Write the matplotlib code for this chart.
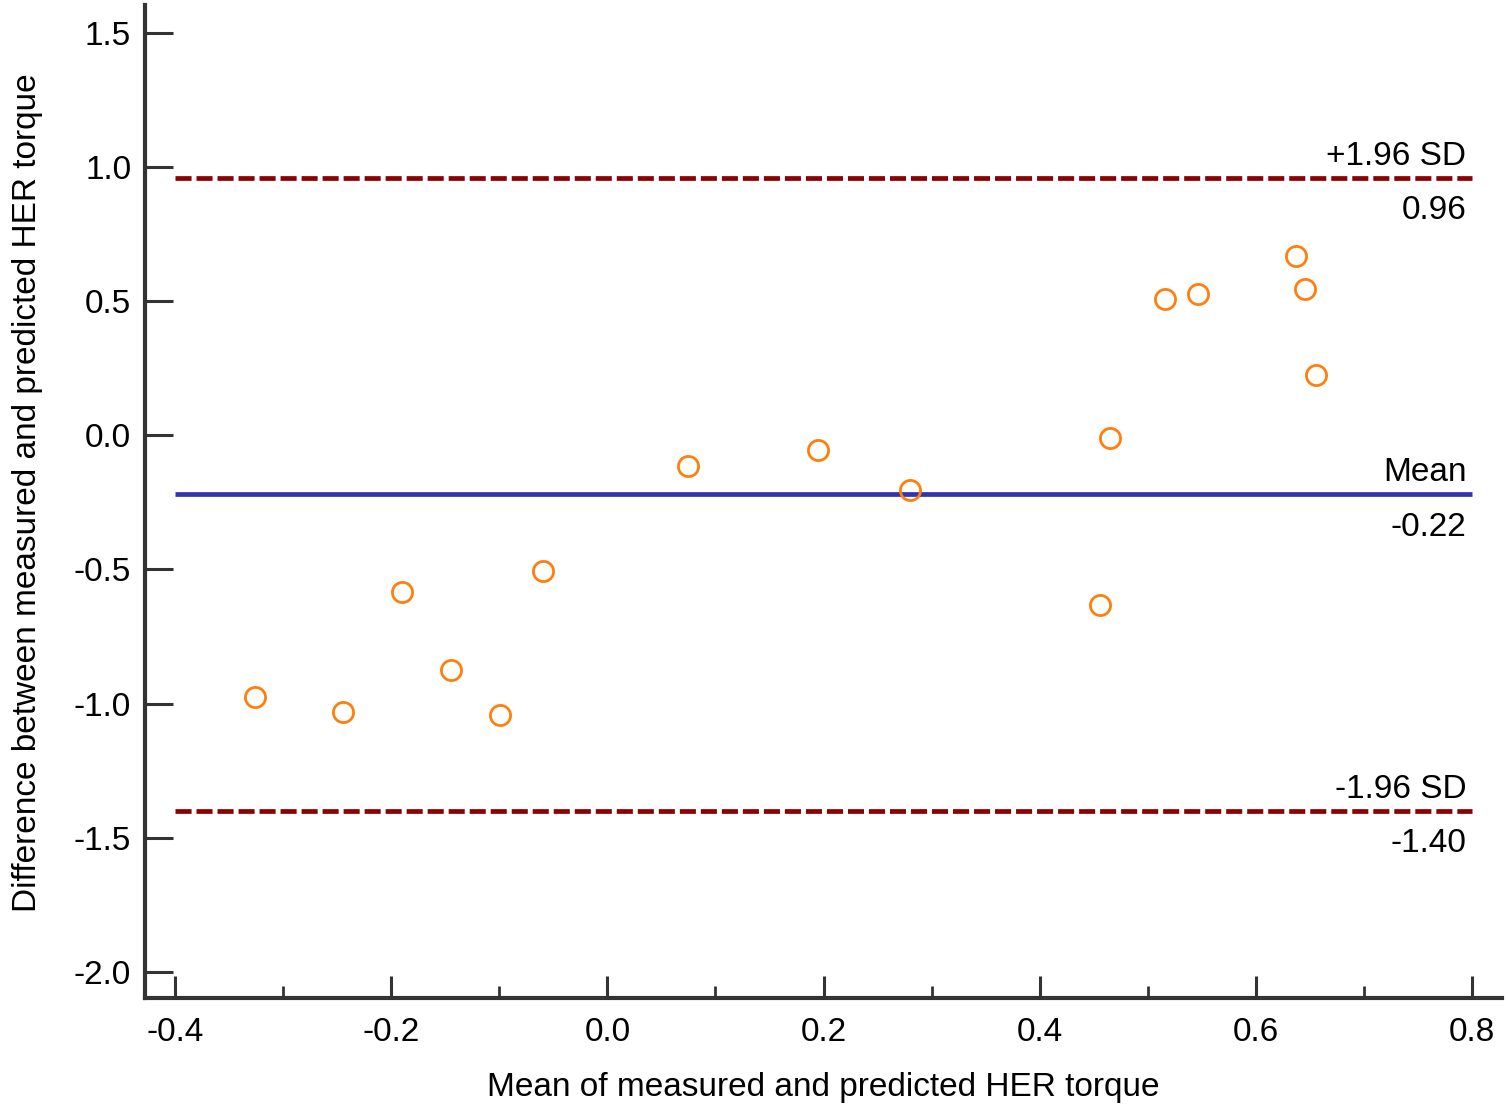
import matplotlib
matplotlib.use("Agg")
import matplotlib.pyplot as plt
from matplotlib.ticker import MultipleLocator

plt.rcParams['font.family'] = ['Liberation Sans', 'DejaVu Sans']

# mean and difference of measured vs predicted HER torque
mean_vals = [-0.326, -0.245, -0.190, -0.145, -0.099, -0.060, 0.075, 0.195,
             0.280, 0.456, 0.465, 0.516, 0.547, 0.637, 0.646, 0.656]
diff_vals = [-0.976, -1.032, -0.585, -0.876, -1.044, -0.507, -0.116, -0.056,
             -0.205, -0.634, -0.011, 0.507, 0.526, 0.667, 0.544, 0.224]

bias = -0.22
upper = 0.96
lower = -1.40

fig = plt.figure(figsize=(15.08, 11.06), dpi=100)
ax = fig.add_axes([0.0962, 0.0976, 0.8998, 0.898])

ax.hlines([upper, lower], -0.4, 0.8, colors='#8b0000', linestyles=(0, (3.4, 1.05)), lw=3.4)
ax.hlines(bias, -0.4, 0.8, colors='#3333aa', lw=3.4)
ax.plot(mean_vals, diff_vals, 'o', mfc='none', mec='#ff7f0e', ms=14.5, mew=2)

lab = dict(ha='right', fontsize=24)
ax.text(0.795, upper + 0.022, "+1.96 SD", va='bottom', **lab)
ax.text(0.795, upper - 0.065, "%.2f" % upper, va='top', **lab)
ax.text(0.795, bias + 0.022, "Mean", va='bottom', **lab)
ax.text(0.795, bias - 0.065, "%.2f" % bias, va='top', **lab)
ax.text(0.795, lower + 0.022, "-1.96 SD", va='bottom', **lab)
ax.text(0.795, lower - 0.065, "%.2f" % lower, va='top', **lab)

ax.set_xlim(-0.428, 0.828)
ax.set_ylim(-2.097, 1.604)
ax.set_xticks([-0.4, -0.2, 0.0, 0.2, 0.4, 0.6, 0.8])
ax.set_yticks([-2.0, -1.5, -1.0, -0.5, 0.0, 0.5, 1.0, 1.5])
ax.xaxis.set_minor_locator(MultipleLocator(0.1))
ax.xaxis.set_major_formatter(matplotlib.ticker.FormatStrFormatter('%.1f'))
ax.yaxis.set_major_formatter(matplotlib.ticker.FormatStrFormatter('%.1f'))

for s in ['top', 'right']:
    ax.spines[s].set_visible(False)
for s in ['left', 'bottom']:
    ax.spines[s].set_linewidth(3)
    ax.spines[s].set_color('#333333')

ax.tick_params(axis='both', which='major', direction='in', width=2.2,
               color='#333333', labelsize=24)
ax.tick_params(axis='y', which='major', length=20, pad=10)
ax.tick_params(axis='x', which='major', length=16, pad=14)
ax.tick_params(axis='x', which='minor', direction='in', length=9, width=2,
               color='#333333')

ax.set_xlabel("Mean of measured and predicted HER torque", fontsize=24, labelpad=17)
ax.set_ylabel("Difference between measured and predicted HER torque", fontsize=24,
              labelpad=22)
ax.yaxis.label.set_y(0.509)

fig.savefig("out.png", dpi=100)
